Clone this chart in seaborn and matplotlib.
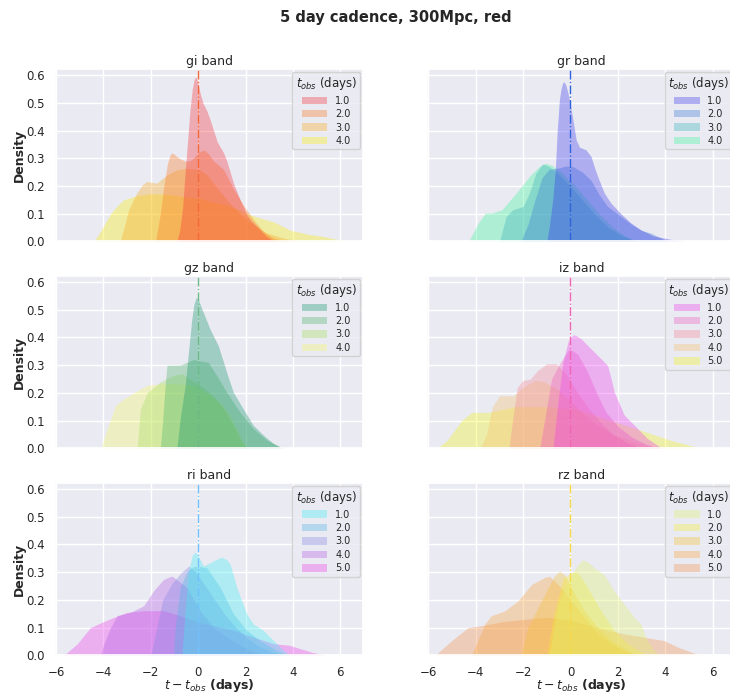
import numpy as np
import pandas as pd
import matplotlib
matplotlib.use("Agg")
import matplotlib.pyplot as plt
import seaborn as sns

# Observation epochs shown in each panel (days)
t_obs_4 = ["1.0", "2.0", "3.0", "4.0"]
t_obs_5 = ["1.0", "2.0", "3.0", "4.0", "5.0"]

# Density curves, one list per observation epoch: x = t - t_obs (days), y = density
gi_x = [
    [-0.9, -0.78, -0.66, -0.55, -0.45, -0.35, -0.25, -0.17, -0.1, -0.03, 0.08, 0.2, 0.37, 0.5, 0.65, 0.8, 0.93,
     1.07, 1.21, 1.35, 1.49, 1.63, 1.77, 2.06, 2.27, 2.48, 2.7, 2.9, 3.1, 3.3],
    [-1.8, -1.6, -1.45, -1.3, -1.2, -1.1, -0.95, -0.8, -0.55, -0.35, -0.2, 0.0, 0.23, 0.45, 0.65, 1.07, 1.49,
     1.92, 2.34, 2.76, 3.18, 3.75],
    [-3.3, -3.1, -2.94, -2.6, -2.35, -2.17, -1.75, -1.32, -0.9, -0.48, 0.08, 0.37, 0.65, 1.21, 1.77, 2.34, 2.9,
     3.6, 4.3],
    [-4.4, -4.1, -3.7, -3.4, -3.15, -2.6, -2.0, -1.3, -0.5, 0.1, 0.7, 1.2, 1.7, 2.05, 2.6, 3.2, 3.9, 4.7, 5.15,
     6.0, 6.4],
]
gi_y = [
    [0.0, 0.04, 0.12, 0.25, 0.36, 0.47, 0.55, 0.585, 0.594, 0.58, 0.535, 0.50, 0.47, 0.44, 0.40, 0.36, 0.34,
     0.32, 0.29, 0.25, 0.21, 0.18, 0.15, 0.096, 0.072, 0.054, 0.034, 0.018, 0.007, 0.0],
    [0.0, 0.1, 0.2, 0.28, 0.31, 0.32, 0.31, 0.30, 0.29, 0.29, 0.30, 0.32, 0.33, 0.315, 0.29, 0.26, 0.19,
     0.13, 0.078, 0.036, 0.012, 0.0],
    [0.0, 0.06, 0.114, 0.174, 0.205, 0.216, 0.21, 0.24, 0.258, 0.264, 0.258, 0.24, 0.21, 0.15, 0.10, 0.06, 0.03,
     0.012, 0.0],
    [0.0, 0.04, 0.1, 0.13, 0.15, 0.165, 0.172, 0.17, 0.16, 0.155, 0.14, 0.13, 0.115, 0.1, 0.085, 0.07, 0.04,
     0.025, 0.02, 0.005, 0.0],
]

gr_x = [
    [-1.0, -0.9, -0.75, -0.64, -0.56, -0.47, -0.4, -0.33, -0.28, -0.2, -0.12, -0.04, 0.1, 0.24, 0.38, 0.52, 0.66,
     0.87, 1.0, 1.15, 1.43, 1.71, 2.13, 2.55, 2.97, 3.5, 4.2, 4.9],
    [-2.1, -1.8, -1.5, -1.2, -0.9, -0.5, -0.2, 0.1, 0.5, 0.87, 1.2, 1.57, 2.13, 2.6, 3.0, 3.4, 4.1],
    [-3.0, -2.72, -2.44, -2.0, -1.74, -1.46, -1.18, -0.9, -0.6, 0.0, 0.5, 1.0, 1.6, 2.2, 2.8],
    [-4.3, -3.9, -3.6, -3.33, -2.9, -2.3, -1.74, -1.32, -1.04, -0.8, -0.4, 0.2, 0.7, 1.2, 1.8, 2.3, 2.8],
]
gr_y = [
    [0.0, 0.05, 0.15, 0.26, 0.40, 0.51, 0.55, 0.572, 0.576, 0.565, 0.54, 0.51, 0.44, 0.366, 0.34, 0.335, 0.33,
     0.306, 0.27, 0.234, 0.174, 0.138, 0.10, 0.067, 0.042, 0.02, 0.008, 0.0],
    [0.0, 0.06, 0.15, 0.23, 0.26, 0.265, 0.272, 0.27, 0.25, 0.22, 0.17, 0.126, 0.09, 0.06, 0.04, 0.03, 0.0],
    [0.0, 0.09, 0.114, 0.126, 0.174, 0.246, 0.28, 0.27, 0.25, 0.2, 0.15, 0.1, 0.05, 0.02, 0.0],
    [0.0, 0.066, 0.102, 0.102, 0.114, 0.174, 0.234, 0.27, 0.282, 0.275, 0.25, 0.2, 0.15, 0.1, 0.05, 0.02, 0.0],
]

gz_x = [
    [-0.9, -0.76, -0.55, -0.41, -0.27, -0.18, -0.08, 0.02, 0.1, 0.22, 0.5, 0.85, 1.2, 1.48, 1.9, 2.32, 2.75,
     3.17, 3.59],
    [-1.6, -1.5, -1.42, -1.32, -0.76, -0.2, 0.43, 0.78, 1.2, 1.76, 2.32, 2.89, 3.45, 3.7],
    [-2.58, -2.44, -2.16, -1.6, -1.04, -0.69, -0.34, 0.08, 0.64, 1.06, 1.48, 1.76, 2.04],
    [-4.1, -3.84, -3.49, -3.14, -2.72, -2.16, -1.6, -0.9, -0.2, 0.36, 0.92, 1.34, 1.62, 1.9, 2.1],
]
gz_y = [
    [0.0, 0.107, 0.227, 0.347, 0.466, 0.52, 0.544, 0.535, 0.515, 0.49, 0.43, 0.37, 0.275, 0.203, 0.143, 0.084,
     0.048, 0.018, 0.0],
    [0.0, 0.1, 0.2, 0.30, 0.30, 0.32, 0.31, 0.263, 0.203, 0.131, 0.072, 0.03, 0.006, 0.0],
    [0.0, 0.143, 0.2, 0.24, 0.263, 0.269, 0.25, 0.227, 0.19, 0.143, 0.084, 0.036, 0.0],
    [0.0, 0.072, 0.155, 0.179, 0.2, 0.227, 0.233, 0.233, 0.227, 0.2, 0.167, 0.12, 0.072, 0.024, 0.0],
]

iz_x = [
    [-0.74, -0.53, -0.32, -0.11, 0.0, 0.14, 0.28, 0.45, 0.87, 1.29, 1.57, 1.72, 1.85, 2.27, 2.83, 3.24, 3.66, 3.9],
    [-1.3, -1.1, -0.8, -0.5, -0.05, 0.3, 0.7, 1.1, 1.5, 2.0, 2.6, 3.2, 3.7],
    [-2.6, -2.45, -2.25, -2.0, -1.7, -1.4, -1.0, -0.6, -0.2, 0.3, 0.8, 1.3, 1.8, 2.4, 3.0],
    [-3.8, -3.55, -3.3, -3.0, -2.4, -2.0, -1.5, -1.1, -0.5, 0.0, 0.6, 1.2, 1.8, 2.5, 3.2, 3.8],
    [-5.64, -5.2, -4.6, -4.17, -3.47, -2.35, -0.95, 0.3, 1.0, 1.7, 2.8, 3.5, 4.2, 5.06, 5.6],
]
iz_y = [
    [0.0, 0.167, 0.311, 0.383, 0.40, 0.41, 0.405, 0.395, 0.359, 0.323, 0.299, 0.25, 0.203, 0.12, 0.072, 0.036,
     0.012, 0.0],
    [0.0, 0.1, 0.25, 0.3, 0.36, 0.34, 0.28, 0.2, 0.13, 0.08, 0.04, 0.015, 0.0],
    [0.0, 0.1, 0.22, 0.245, 0.25, 0.28, 0.305, 0.305, 0.27, 0.2, 0.14, 0.09, 0.05, 0.02, 0.0],
    [0.0, 0.05, 0.15, 0.19, 0.19, 0.22, 0.245, 0.24, 0.21, 0.17, 0.12, 0.08, 0.05, 0.03, 0.01, 0.0],
    [0.0, 0.03, 0.1, 0.13, 0.13, 0.15, 0.15, 0.14, 0.12, 0.1, 0.07, 0.05, 0.03, 0.01, 0.0],
]

ri_x = [
    [-0.69, -0.55, -0.41, -0.25, -0.13, 0.0, 0.22, 0.51, 0.75, 1.0, 1.2, 1.35, 1.63, 2.05, 2.33, 2.75, 3.17,
     3.6, 3.87],
    [-1.04, -0.97, -0.76, -0.48, -0.2, 0.08, 0.36, 0.93, 1.49, 2.05, 2.6, 3.3, 3.8],
    [-2.0, -1.75, -1.5, -1.1, -0.7, -0.4, -0.1, 0.3, 0.7, 1.1, 1.6, 2.1, 2.6, 3.2, 3.6],
    [-4.12, -3.98, -3.7, -3.42, -2.86, -2.3, -1.88, -1.46, -1.11, -0.48, 0.08, 0.65, 1.2, 1.77, 2.33, 2.8],
    [-5.67, -5.1, -4.55, -4.12, -3.56, -3.0, -2.3, -1.46, -0.76, 0.0, 0.65, 1.49, 2.33, 3.17, 3.87, 4.3, 4.85,
     5.4],
]
ri_y = [
    [0.0, 0.161, 0.304, 0.36, 0.373, 0.36, 0.322, 0.334, 0.345, 0.354, 0.345, 0.328, 0.245, 0.149, 0.113, 0.09,
     0.054, 0.018, 0.0],
    [0.0, 0.1, 0.245, 0.30, 0.32, 0.32, 0.316, 0.245, 0.149, 0.09, 0.054, 0.018, 0.0],
    [0.0, 0.1, 0.2, 0.26, 0.3, 0.322, 0.3, 0.25, 0.2, 0.15, 0.1, 0.06, 0.03, 0.01, 0.0],
    [0.0, 0.042, 0.1, 0.143, 0.155, 0.179, 0.233, 0.274, 0.286, 0.245, 0.161, 0.1, 0.066, 0.036, 0.012, 0.0],
    [0.0, 0.042, 0.1, 0.117, 0.137, 0.155, 0.161, 0.161, 0.143, 0.119, 0.107, 0.09, 0.066, 0.042, 0.036, 0.024,
     0.01, 0.0],
]

rz_x = [
    [-0.88, -0.53, -0.25, 0.03, 0.31, 0.52, 0.75, 1.01, 1.43, 1.85, 2.27, 2.69, 2.97, 3.25, 3.53, 3.8],
    [-1.0, -0.7, -0.3, 0.1, 0.3, 0.73, 1.29, 1.85, 2.41, 2.97, 3.3],
    [-2.08, -1.8, -1.37, -0.95, -0.65, -0.46, -0.25, 0.03, 0.59, 1.15, 1.71, 2.27, 2.8],
    [-4.18, -3.62, -3.34, -2.78, -2.22, -1.65, -1.09, -0.88, -0.39, 0.03, 0.59, 1.15, 1.71, 2.27, 2.8],
    [-5.72, -5.02, -4.32, -3.76, -2.78, -1.8, -0.95, 0.03, 1.15, 2.27, 3.11, 3.96, 4.52, 5.08, 5.5],
]
rz_y = [
    [0.0, 0.184, 0.243, 0.29, 0.327, 0.345, 0.335, 0.315, 0.29, 0.232, 0.184, 0.137, 0.113, 0.053, 0.018, 0.0],
    [0.0, 0.15, 0.28, 0.30, 0.30, 0.243, 0.16, 0.089, 0.042, 0.012, 0.0],
    [0.0, 0.1, 0.172, 0.243, 0.29, 0.303, 0.29, 0.243, 0.16, 0.1, 0.053, 0.024, 0.0],
    [0.0, 0.113, 0.143, 0.16, 0.196, 0.255, 0.281, 0.285, 0.243, 0.196, 0.137, 0.077, 0.042, 0.018, 0.0],
    [0.0, 0.053, 0.1, 0.107, 0.122, 0.131, 0.137, 0.125, 0.1, 0.077, 0.065, 0.053, 0.03, 0.012, 0.0],
]

# Fill colours per band (drawn with transparency) and the t = t_obs marker colour
gi_colors = ["#f5333b", "#fb7a24", "#fbab24", "#fbed08"]
gr_colors = ["#3c3cec", "#3c7bd5", "#3cb4b9", "#40f69c"]
gz_colors = ["#17976c", "#50b46c", "#a6df5d", "#f5fb6c"]
iz_colors = ["#ed41ec", "#ed5ec1", "#f58997", "#f5c26c", "#f5f524"]
ri_colors = ["#41edf2", "#50b4e6", "#8989e6", "#b45ee6", "#ed41ec"]
rz_colors = ["#e1f06e", "#f5ed33", "#f5c233", "#fba541", "#f5974f"]
line_colors = ["#f26a3c", "#2f62dd", "#6cba86", "#f064b4", "#70c2ff", "#f4d84a"]
fill_alpha = 0.35

bands = ["gi", "gr", "gz", "iz", "ri", "rz"]
all_x = [gi_x, gr_x, gz_x, iz_x, ri_x, rz_x]
all_y = [gi_y, gr_y, gz_y, iz_y, ri_y, rz_y]
all_colors = [gi_colors, gr_colors, gz_colors, iz_colors, ri_colors, rz_colors]

sns.set_theme(style="darkgrid")
plt.rcParams["font.family"] = ["DejaVu Sans"]

fig, axes = plt.subplots(3, 2, figsize=(7.3, 6.96), dpi=100, sharex=True, sharey=True)
fig.subplots_adjust(left=0.0753, right=1.0075, top=0.9009, bottom=0.0585,
                    wspace=0.208, hspace=0.2)

for i, ax in enumerate(axes.flat):
    xs, ys, cols = all_x[i], all_y[i], all_colors[i]
    labels = t_obs_4 if len(xs) == 4 else t_obs_5
    frames = [pd.DataFrame({"t": x, "density": y, "t_obs": lab})
              for x, y, lab in zip(xs, ys, labels)]
    df = pd.concat(frames, ignore_index=True)
    # later epochs first so the earliest epoch sits on top
    for lab, col in reversed(list(zip(labels, cols))):
        sub = df[df["t_obs"] == lab]
        ax.fill_between(sub["t"], 0, sub["density"], color=col, alpha=fill_alpha,
                        linewidth=0, label=lab)
    ax.axvline(0, color=line_colors[i], linestyle="-.", linewidth=1.0)
    ax.set_title(f"{bands[i]} band", fontsize=9, pad=3)
    handles, labs = ax.get_legend_handles_labels()
    ax.legend(handles[::-1], labs[::-1], title=r"$t_{obs}$ (days)",
              loc="upper right", fontsize=7, title_fontsize=8.5,
              handlelength=2.6, handleheight=0.8, labelspacing=0.35,
              borderpad=0.35, handletextpad=0.8, borderaxespad=0.3)
    ax.set_xlim(-6.05, 6.97)
    ax.set_ylim(0, 0.622)
    ax.set_xticks([-6, -4, -2, 0, 2, 4, 6])
    ax.set_yticks([0, 0.1, 0.2, 0.3, 0.4, 0.5, 0.6])
    ax.tick_params(labelsize=8.5, pad=1.5)
    ax.set_xlabel("")
    ax.set_ylabel("")

for ax in axes[:, 0]:
    ax.set_ylabel("Density", fontsize=9, fontweight="bold", labelpad=0)
for ax in axes[-1, :]:
    ax.set_xlabel(r"$t - t_{obs}$ (days)", fontsize=9, fontweight="bold", labelpad=-1)

fig.suptitle("5 day cadence, 300Mpc, red", fontsize=10.5, fontweight="bold",
             x=0.542, y=0.985)

fig.savefig("out.png", dpi=100)
